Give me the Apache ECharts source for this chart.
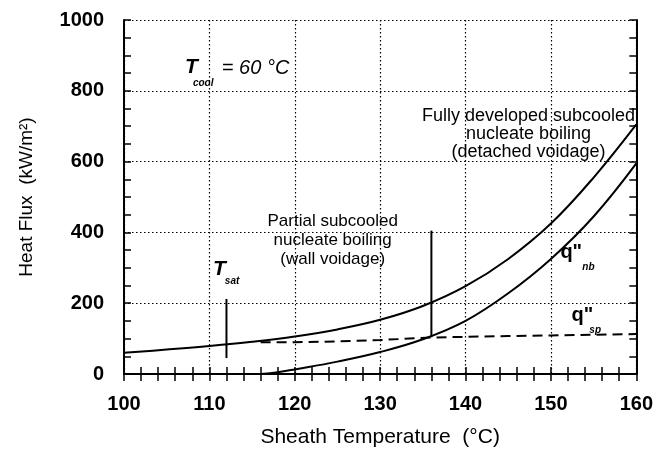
<!DOCTYPE html>
<html>
<head>
<meta charset="utf-8">
<script src="https://cdn.jsdelivr.net/npm/echarts@6/dist/echarts.min.js"></script>
<style>html,body{margin:0;padding:0;background:#fff}#c{width:656px;height:453px}</style>
</head>
<body>
<div id="c"></div>
<script>
// Sheath temperature (°C) and heat flux (kW/m²)
const upperT = [100, 105, 110, 115, 120, 125, 130, 135, 140, 145, 150, 155, 160];
const upperQ = [60, 69, 79, 91, 106, 126, 153, 192, 248, 325, 425, 555, 705];
const nbT = [116, 118, 120, 125, 130, 135, 140, 145, 150, 155, 160];
const nbQ = [0, 5, 13, 35, 62, 98, 150, 228, 325, 445, 595];
const spT = [116, 120, 125, 130, 136, 140, 145, 150, 155, 160];
const spQ = [90, 90, 92, 96, 103, 105, 107, 109, 111, 113];
const tsatLine = [[112, 45], [112, 212]];
const onbLine = [[136, 104], [136, 405]];
const xTicks = [100, 110, 120, 130, 140, 150, 160];
const yTicks = [0, 200, 400, 600, 800, 1000];

const zip = (a, b) => a.map((v, i) => [v, b[i]]);
const FONT = 'Liberation Sans, Arial, Helvetica, sans-serif';
const chart = echarts.init(document.getElementById('c'), null, {renderer: 'canvas'});

const tickStyle = {show: true, inside: true, length: 7, lineStyle: {color: '#000', width: 1.5}};
const axisLine = {show: true, lineStyle: {color: '#000', width: 2}};
const grid = {show: true, lineStyle: {color: '#000', width: 1.2, type: [1.5, 2.5]}};

const lineSeries = (data, extra) => Object.assign({
  type: 'line', data: data, showSymbol: false, symbol: 'none', smooth: 0.4,
  lineStyle: {color: '#000', width: 2}, silent: true, z: 5
}, extra || {});

chart.setOption({
  animation: false,
  backgroundColor: '#fff',
  grid: {left: 124, right: 19, top: 20, bottom: 78},
  xAxis: [{
    type: 'value', min: 100, max: 160, interval: 10,
    name: 'Sheath Temperature  (°C)', nameLocation: 'middle', nameGap: 53,
    nameTextStyle: {fontFamily: FONT, fontSize: 21, color: '#000'},
    axisLine: axisLine, axisTick: tickStyle,
    minorTick: {show: true, splitNumber: 5, length: 7, lineStyle: {color: '#000', width: 1.5}},
    splitLine: grid,
    axisLabel: {fontFamily: FONT, fontSize: 20, fontWeight: 'bold', color: '#000', margin: 20,
      formatter: v => xTicks.includes(v) ? String(v) : ''}
  }, {
    type: 'value', min: 100, max: 160, interval: 10, position: 'top',
    axisLine: axisLine, axisTick: tickStyle,
    minorTick: {show: true, splitNumber: 5, length: 7, lineStyle: {color: '#000', width: 1.5}},
    splitLine: {show: false}, axisLabel: {show: false}
  }],
  yAxis: [{
    type: 'value', min: 0, max: 1000, interval: 200,
    name: 'Heat Flux  (kW/m²)', nameLocation: 'middle', nameGap: 88,
    nameTextStyle: {fontFamily: FONT, fontSize: 19, color: '#000'},
    axisLine: axisLine, axisTick: tickStyle,
    minorTick: {show: true, splitNumber: 4, length: 7, lineStyle: {color: '#000', width: 1.5}},
    splitLine: grid,
    axisLabel: {fontFamily: FONT, fontSize: 20, fontWeight: 'bold', color: '#000', margin: 20,
      formatter: v => yTicks.includes(v) ? String(v) : ''}
  }, {
    type: 'value', min: 0, max: 1000, interval: 200, position: 'right',
    axisLine: axisLine, axisTick: tickStyle,
    minorTick: {show: true, splitNumber: 4, length: 7, lineStyle: {color: '#000', width: 1.5}},
    splitLine: {show: false}, axisLabel: {show: false}
  }],
  series: [
    lineSeries(zip(upperT, upperQ)),
    lineSeries(zip(nbT, nbQ)),
    lineSeries(zip(spT, spQ), {smooth: false, lineStyle: {color: '#000', width: 2, type: [10, 6]}}),
    lineSeries(tsatLine, {smooth: false}),
    lineSeries(onbLine, {smooth: false})
  ]
});

// Annotations anchored in data coordinates
const P = (x, y) => chart.convertToPixel({xAxisIndex: 0, yAxisIndex: 0}, [x, y]);
const txt = (x, y, text, style) => {
  const p = P(x, y);
  return {type: 'text', x: p[0], y: p[1], z: 20, silent: true,
    style: Object.assign({text: text, fill: '#000', fontFamily: FONT, fontSize: 18,
      textAlign: 'left', textVerticalAlign: 'middle', align: 'left', verticalAlign: 'middle'}, style)};
};
const ital = {fontStyle: 'italic', fontWeight: 'bold'};
const sub = {fontStyle: 'italic', fontWeight: 'bold', fontSize: 10};

chart.setOption({
  graphic: [
    txt(107.13, 866, 'T', Object.assign({fontSize: 21}, ital)),
    txt(108.07, 822, 'cool', sub),
    txt(111.46, 862, '= 60 °C', {fontStyle: 'italic', fontSize: 20}),
    txt(110.41, 297, 'T', Object.assign({fontSize: 21}, ital)),
    txt(111.81, 262, 'sat', sub),
    txt(124.44, 377, 'Partial subcooled\nnucleate boiling\n(wall voidage)',
      {fontSize: 17, lineHeight: 19, textAlign: 'center', align: 'center'}),
    txt(147.37, 679, 'Fully developed subcooled\nnucleate boiling\n(detached voidage)',
      {fontSize: 18, lineHeight: 18, textAlign: 'center', align: 'center'}),
    txt(151.11, 344, 'q"', {fontSize: 20, fontWeight: 'bold'}),
    txt(153.68, 301, 'nb', sub),
    txt(152.4, 166, 'q"', {fontSize: 20, fontWeight: 'bold'}),
    txt(154.5, 124, 'sp', sub)
  ]
});
</script>
</body>
</html>
